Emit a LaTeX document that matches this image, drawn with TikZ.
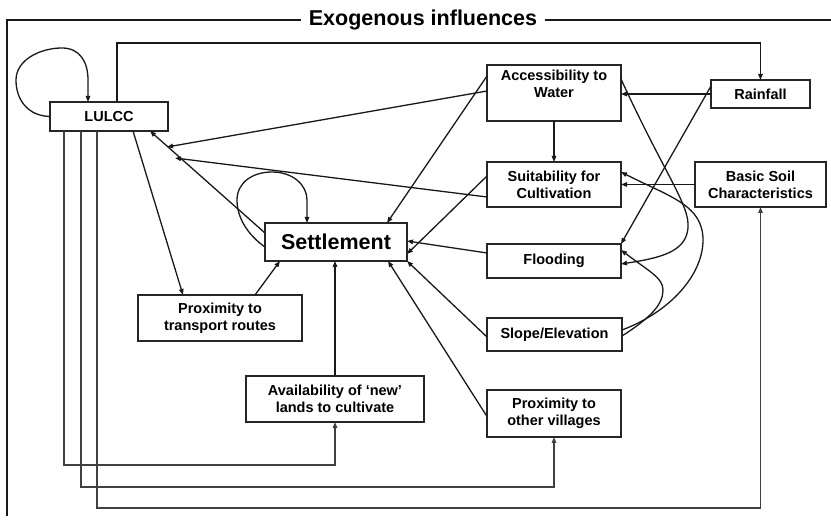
\documentclass[tikz,border=0pt]{standalone}
\usepackage{fontspec}
\setmainfont{Liberation Sans}
\usetikzlibrary{arrows.meta,calc}
\begin{document}
\begin{tikzpicture}[x=1pt,y=-1pt,
  box/.style={draw=black!85, line width=1.3pt, fill=white, inner sep=0pt, outer sep=0pt,
    align=center, font=\fontsize{14.5}{17}\selectfont\bfseries},
  conn/.style={draw=black!90, line width=1.3pt, -{Triangle[length=6pt,width=4.5pt]}},
  plain/.style={draw=black!90, line width=1.3pt},
  longline/.style={draw=black!75, line width=1.3pt, -{Triangle[length=6pt,width=4.5pt]}}]
\useasboundingbox (0,0) rectangle (831,521);
\fill[white] (0,0) rectangle (831,521);

% title and open frame
\node[font=\fontsize{21.5}{24}\selectfont\bfseries, inner sep=0pt] (title) at (423,20) {Exogenous influences};
\coordinate (fl) at (7,20);
\coordinate (fb) at (7,516);
\coordinate (fr) at (831,20);
\draw[plain] ([xshift=-8pt]title.west |- fl) -- (fl) -- (fb);
\draw[plain] ([xshift=8pt]title.east |- fr) -- (fr);

% nodes
\node[box, minimum width=118, minimum height=29] (lulcc) at (109,116.5) {LULCC};
\node[box, minimum width=134, minimum height=56] (acc) at (554,93) {Accessibility to\\Water\\[-4pt]\strut};
\node[box, minimum width=99, minimum height=28] (rain) at (760.5,94) {Rainfall};
\node[box, minimum width=134, minimum height=45] (suit) at (554,184.5) {Suitability for\\Cultivation};
\node[box, minimum width=131, minimum height=45] (soil) at (760.5,184.5) {Basic Soil\\Characteristics};
\node[box, minimum width=134, minimum height=34] (flood) at (554,261) {Flooding};
\node[box, minimum width=135, minimum height=33] (slope) at (554.5,334.5) {Slope/Elevation};
\node[box, minimum width=134, minimum height=47] (vill) at (554,413.5) {Proximity to\\other villages};
\node[box, line width=2.5pt, minimum width=142, minimum height=38, font=\fontsize{21.5}{24}\selectfont\bfseries] (settle) at (336,242) {Settlement};
\node[box, minimum width=164, minimum height=46] (trans) at (220,318) {Proximity to\\transport routes};
\node[box, minimum width=178, minimum height=46] (avail) at (335,399) {Availability of ‘new’\\lands to cultivate};

% free arrow ends near LULCC
\coordinate (tipA) at (167,147);
\coordinate (tipS) at (175,158);

% self loops
\draw[conn] (lulcc.west) .. controls (28,116) and (16,100) .. (16,80)
  .. controls (16,60) and (40,48) .. (62,48)
  .. controls (80,48) and (88,62) .. (88,80) -- ([xshift=-21pt]lulcc.north);
\draw[conn] ([yshift=-5pt]settle.west) .. controls (248,235) and (237,218) .. (237,200)
  .. controls (237,183) and (252,172) .. (272,172)
  .. controls (293,172) and (307,185) .. (307,200) -- ([xshift=-29pt]settle.north);

% LULCC feedback to Rainfall
\draw[conn] ([xshift=8pt]lulcc.north) -- ++(0,-59) -| (rain.north);
% LULCC long lines
\draw[longline] ([xshift=-45pt]lulcc.south) -- ++(0,334) -| (avail.south);
\draw[longline] ([xshift=-28pt]lulcc.south) -- ++(0,356) -| (vill.south);
\draw[longline] ([xshift=-12pt]lulcc.south) -- ++(0,377) -| (soil.south);

% into LULCC
\draw[conn] ([yshift=2pt]acc.west) -- (tipA);
\draw[conn] ([yshift=-12.5pt]suit.west) -- (tipS);
\draw[conn] ([yshift=9pt]settle.west) -- ([xshift=41pt]lulcc.south);

% LULCC -> transport -> settlement
\draw[conn] ([xshift=24pt]lulcc.south) -- ([xshift=-37pt]trans.north);
\draw[conn] ([xshift=35pt]trans.north) -- ([xshift=-56pt]settle.south);
\draw[conn] (avail.north) -- (avail.north |- settle.south);

% into settlement from right
\draw[conn] ([yshift=17pt]acc.west) -- ([xshift=51pt]settle.north);
\draw[conn] ([yshift=8.5pt]suit.west) -- ([yshift=-12pt]settle.east);
\draw[conn] ([yshift=8pt]flood.west) -- ([yshift=1pt]settle.east);
\draw[conn] ([yshift=-2.5pt]slope.west) -- (settle.south east);
\draw[conn] ([yshift=-3pt]vill.west) -- ([xshift=52pt]settle.south);

% right-hand cluster
\draw[conn] (acc.south) -- (suit.north);
\draw[conn] (rain.west) -- (rain.west -| acc.east);
\draw[conn] ([yshift=8pt]rain.west) -- (flood.north east);
\draw[conn] (soil.west) -- (soil.west -| suit.east);
\draw[conn] ([yshift=14pt]acc.east) .. controls (665,175) and (690,205) .. (688,228)
  .. controls (686,252) and (660,258) .. ([yshift=-3pt]flood.east);
\draw[conn] ([yshift=4.5pt]slope.east) .. controls (670,312) and (703,275) .. (703,240)
  .. controls (703,205) and (670,197) .. ([yshift=12.5pt]suit.east);
\draw[conn] ([yshift=-1.5pt]slope.east) .. controls (650,318) and (663,305) .. (663,290)
  .. controls (663,278) and (650,272) .. ([yshift=11pt]flood.east);
\end{tikzpicture}
\end{document}
